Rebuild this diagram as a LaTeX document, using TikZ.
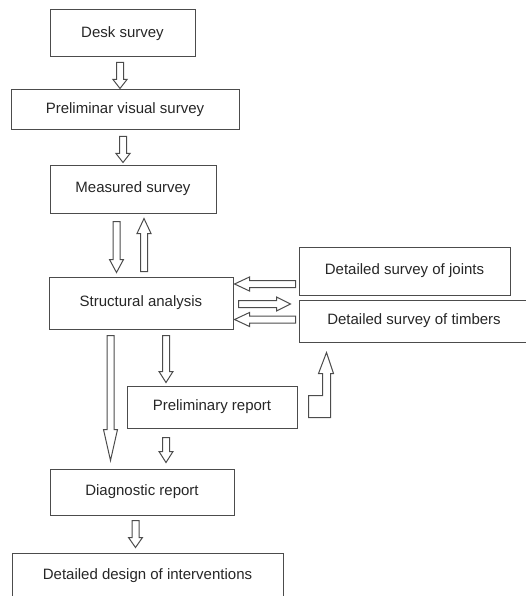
\documentclass[tikz,border=0pt]{standalone}
\usepackage{fontspec}
\setmainfont{Liberation Sans}
\usetikzlibrary{positioning,calc}

\begin{document}
\begin{tikzpicture}[%
        x=1pt, y=-1pt,
        every node/.style={rectangle, inner sep=0pt, line width=1pt, text=black!85, font=\fontsize{15}{18}\selectfont},
        hollow/.style={draw=black!70, line width=1pt, to path={
          let \p1=(\tikztostart), \p2=(\tikztotarget), \p3=($(\p2)!#1!(\p1)$) in
          ($(\p1)!3.5pt!90:(\p2)$) -- ($(\p3)!3.5pt!90:(\p2)$) -- ($(\p3)!7pt!90:(\p2)$) -- (\p2)
          -- ($(\p3)!7pt!-90:(\p2)$) -- ($(\p3)!3.5pt!-90:(\p2)$) -- ($(\p1)!3.5pt!-90:(\p2)$) -- cycle}},
        hollow/.default=10pt
      ]
      \useasboundingbox (0,0) rectangle (525,596);
      \node [draw=black!70] (desk) at (122.5,33.5) [minimum width=145pt, minimum height=47pt] {Desk survey};
      \node [draw=black!70] (visual) at (125,110) [minimum width=228pt, minimum height=40pt] {Preliminar visual survey};
      \node [draw=black!70] (measured) at (133,189) [minimum width=166pt, minimum height=48pt] {Measured survey};
      \node [draw=black!70] (struct) at (141,303) [minimum width=184pt, minimum height=52pt] {Structural analysis};
      \node [draw=black!70] (joints) at (404.5,271) [minimum width=211pt, minimum height=48pt] {Detailed survey of joints};
      \node [draw=black!70] (timbers) at (414,321) [minimum width=230pt, minimum height=42pt] {Detailed survey of timbers};
      \node [draw=black!70] (prelim) at (212,407) [minimum width=170pt, minimum height=42pt] {Preliminary report};
      \node [draw=black!70] (diag) at (142,492) [minimum width=184pt, minimum height=46pt] {Diagnostic report};
      \node [draw=black!70] (design) at (147.5,576) [minimum width=271pt, minimum height=46pt] {Detailed design of interventions};
      \path ([xshift=-2.5pt,yshift=-5pt]desk.south) edge[hollow=9pt] ([xshift=-5pt,yshift=1pt]visual.north)
      ([xshift=-2pt,yshift=-6pt]visual.south) edge[hollow=9pt] ([xshift=-10pt,yshift=2pt]measured.north)
      ([xshift=-16.5pt,yshift=-8pt]measured.south) edge[hollow=13pt] ([xshift=-24.5pt,yshift=4pt]struct.north)
      ([xshift=3pt,yshift=5pt]struct.north) edge[hollow=15pt] ([xshift=11pt,yshift=-5pt]measured.south)
      ([xshift=-3pt,yshift=-13pt]joints.west) edge[hollow=15pt] ([xshift=1pt,yshift=19pt]struct.east)
      ([xshift=5pt,yshift=-1pt]struct.east) edge[hollow=14pt] ([xshift=-8pt,yshift=17pt]timbers.west)
      ([xshift=-3pt,yshift=1.5pt]timbers.west) edge[hollow=15pt] ([xshift=1pt,yshift=-16.5pt]struct.east)
      ([xshift=-30.5pt,yshift=-6pt]struct.south) edge[hollow=31pt] ([xshift=-31.5pt,yshift=8pt]diag.north)
      ([xshift=25pt,yshift=-6pt]struct.south) edge[hollow=11pt] ([xshift=-46pt,yshift=3pt]prelim.north)
      ([xshift=-46pt,yshift=-9pt]prelim.south) edge[hollow=11pt] ([xshift=24pt,yshift=6pt]diag.north)
      ([xshift=-6.5pt,yshift=-5pt]diag.south) edge[hollow=10pt] ([xshift=-12pt,yshift=5pt]design.north);
      \draw[draw=black!70, line width=1pt] ([xshift=28pt,yshift=-10pt]timbers.south west) -- ++(7,21) -- ++(-3,0) -- ++(0,44)
      -- ++(-22,0) -- ++(0,-22) -- ++(14,0) -- ++(0,-22) -- ++(-4,0) -- cycle;
    \end{tikzpicture}
\end{document}
